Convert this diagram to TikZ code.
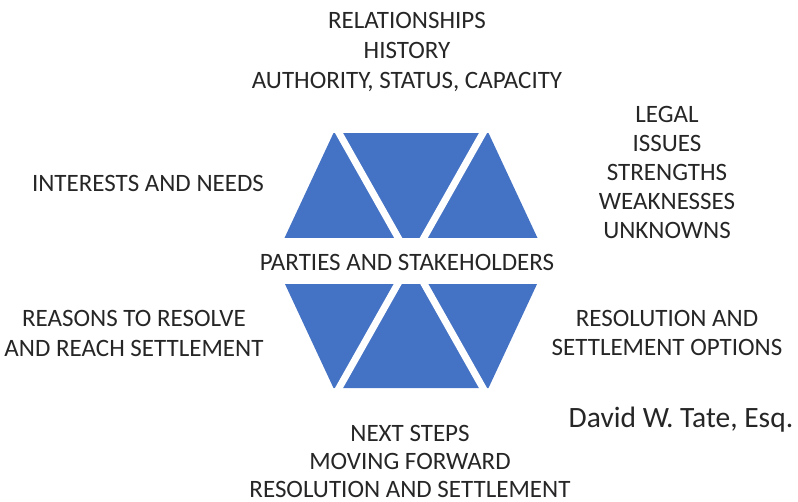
\documentclass[tikz,border=0pt]{standalone}
\usepackage{fontspec}
\setmainfont{Carlito}
\usetikzlibrary{positioning, calc}
\definecolor{hexblue}{RGB}{68,114,196}
\tikzset{
  txt/.style={font=\fontsize{25}{30}\selectfont, text=black!85, inner sep=0pt, anchor=base},
  sig/.style={font=\fontsize{29.5}{34}\selectfont, text=black!85, inner sep=0pt, anchor=base}
}

\begin{document}
\begin{tikzpicture}[x=1pt,y=-1pt]
\useasboundingbox (0,0) rectangle (798,501);

\coordinate (L) at (274,260.5);
\coordinate (TL) at (333.5,133);
\coordinate (TR) at (488.5,133);
\coordinate (R) at (548,260.5);
\coordinate (BR) at (488.5,388);
\coordinate (BL) at (333.5,388);
\coordinate (D1) at (339,133);
\coordinate (D2) at (483,388);
\coordinate (D3) at (483,133);
\coordinate (D4) at (339,388);

\fill[hexblue] (L) -- (TL) -- (TR) -- (R) -- (BR) -- (BL) -- cycle;
\fill[white] (265,238) rectangle (557,284);
\draw[white, line width=7pt] ($(D1)!-0.03!(D2)$) -- ($(D2)!-0.03!(D1)$);
\draw[white, line width=7pt] ($(D3)!-0.03!(D4)$) -- ($(D4)!-0.03!(D3)$);

\node[txt] (rel) at (407,28) {RELATIONSHIPS};
\node[txt] (hist) at (407,58) {HISTORY};
\node[txt] (auth) at (407,88) {AUTHORITY, STATUS, CAPACITY};

\node[txt] (legal) at (667,122) {LEGAL};
\node[txt] (issues) at (667,151) {ISSUES};
\node[txt] (str) at (667,180) {STRENGTHS};
\node[txt] (weak) at (667,209) {WEAKNESSES};
\node[txt] (unk) at (667,238) {UNKNOWNS};

\node[txt] (int) at (148,191) {INTERESTS AND NEEDS};
\node[txt] (parties) at (407,270) {PARTIES AND STAKEHOLDERS};

\node[txt] (reas) at (134,326) {REASONS TO RESOLVE};
\node[txt] (reach) at (134,356) {AND REACH SETTLEMENT};

\node[txt] (resopt) at (667,326) {RESOLUTION AND};
\node[txt] (setopt) at (667,355) {SETTLEMENT OPTIONS};

\node[sig] (tate) at (681,427) {David W. Tate, Esq.};

\node[txt] (next) at (410,441) {NEXT STEPS};
\node[txt] (move) at (410,469) {MOVING FORWARD};
\node[txt] (resset) at (410,497) {RESOLUTION AND SETTLEMENT};
\end{tikzpicture}
\end{document}
